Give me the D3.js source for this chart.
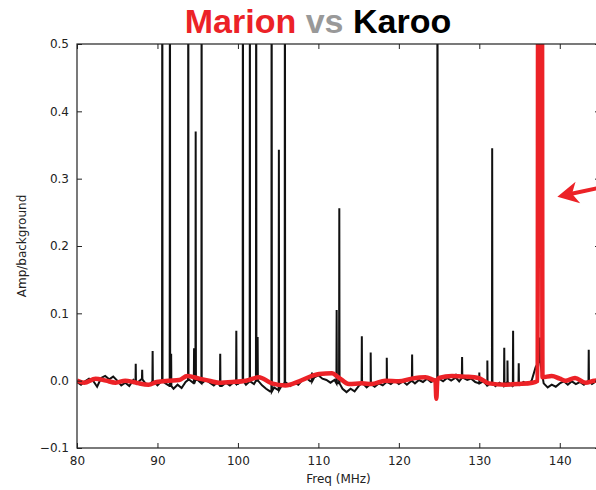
<!DOCTYPE html>
<html>
<head>
<meta charset="utf-8">
<script src="https://cdnjs.cloudflare.com/ajax/libs/d3/7.8.5/d3.min.js"></script>
<style>
  body { margin: 0; background: #fff; }
  #chart { width: 596px; height: 490px; overflow: hidden; }
</style>
</head>
<body>
<div id="chart"></div>
<script>
// Karoo baseline (black), one value every 0.5 MHz starting at 80 MHz
var karooStart = 80, karooStep = 0.5;
var karooBase = [
  -0.002,-0.006,-0.001,0.003,0.000,-0.009,0.004,0.007,0.002,0.006,
  0.000,-0.007,-0.003,-0.008,0.001,-0.003,0.002,-0.004,-0.006,-0.001,
  -0.007,-0.001,-0.004,-0.008,-0.012,-0.006,-0.011,-0.002,0.001,-0.004,
  0.001,-0.004,0.001,-0.003,-0.007,-0.002,-0.008,-0.003,-0.007,-0.002,
  -0.005,0.000,-0.006,-0.001,-0.005,0.000,-0.007,-0.012,-0.016,-0.010,
  -0.014,-0.006,-0.003,-0.008,-0.003,-0.006,0.001,0.004,-0.001,0.005,
  0.008,0.003,0.001,-0.003,0.001,-0.004,-0.012,-0.017,-0.012,-0.016,
  -0.008,-0.004,-0.010,-0.005,-0.009,-0.004,-0.007,-0.002,-0.005,0.000,
  -0.005,-0.001,-0.006,-0.001,-0.004,0.001,-0.002,0.003,-0.002,0.001,
  0.003,-0.001,0.004,0.000,0.004,-0.001,0.004,0.001,0.003,-0.002,
  -0.004,-0.001,-0.007,-0.003,-0.008,-0.003,-0.007,-0.002,-0.007,-0.004,
  -0.006,-0.002,-0.005,0.000,0.020,0.030,-0.004,-0.010,-0.006,-0.009,
  -0.004,-0.001,-0.006,-0.001,-0.005,-0.002,-0.006,-0.001,-0.005,-0.001,
  -0.003
];

// Karoo RFI spikes (black): frequency in MHz and peak amplitude
var spikeFreq = [87.3, 88.1, 89.4, 90.6, 91.55, 91.7, 93.83, 94.55, 94.75, 95.49,
                 97.8, 99.8, 100.62, 101.49, 102.27, 102.45, 104.19, 105.09, 105.84, 109.2,
                 112.27, 112.6, 115.4, 116.5, 118.5, 121.65, 124.8, 127.1, 127.86, 130.0,
                 131.0, 131.6, 133.1, 133.5, 134.2, 134.9, 137.5, 143.6];
var spikeAmp  = [0.025, 0.016, 0.044, 0.8, 0.8, 0.04, 0.8, 0.048, 0.37, 0.8,
                 0.04, 0.074, 0.8, 0.8, 0.8, 0.065, 0.8, 0.343, 0.8, 0.012,
                 0.105, 0.256, 0.066, 0.042, 0.034, 0.039, 0.8, 0.01, 0.035, 0.012,
                 0.03, 0.345, 0.049, 0.03, 0.074, 0.026, 0.064, 0.046];

// Marion (red)
var marionFreq = [80, 80.9, 82.3, 83.6, 84.8, 86.0, 87.0, 87.7, 88.9, 89.9,
                  91.4, 92.7, 93.7, 95.2, 96.4, 97.6, 99.3, 101.0, 102.6, 104.2,
                  105.9, 107.6, 109.2, 110.1, 111.7, 112.5, 113.8, 115.4, 116.6, 118.3,
                  120.0, 121.6, 123.3, 124.3, 124.55, 124.66, 124.78, 125.0, 126.6, 128.3,
                  129.9, 131.2, 133.3, 134.9, 136.6, 137.25, 137.32, 137.78, 137.85, 139.0,
                  140.0, 140.7, 141.9, 143.2, 144.3, 145];
var marionAmp  = [0.0, -0.003, 0.003, 0.0, -0.003, 0.0, -0.002, -0.004, -0.006, -0.002,
                  0.0, 0.001, 0.007, 0.003, 0.0, -0.003, -0.002, 0.0, 0.005, -0.004,
                  -0.007, -0.001, 0.007, 0.010, 0.011, 0.005, -0.005, -0.004, -0.005, 0.0,
                  -0.001, 0.003, 0.005, 0.001, 0.0, -0.027, 0.0, 0.004, 0.007, 0.006,
                  0.004, -0.004, -0.006, -0.005, -0.003, 0.0, 0.7, 0.7, 0.005, 0.007,
                  0.003, 0.0, 0.004, -0.003, 0.0, 0.001];

var xTicks = [80, 90, 100, 110, 120, 130, 140];
var yTicks = [-0.1, 0.0, 0.1, 0.2, 0.3, 0.4, 0.5];

var red = "#ec2227";

var draw = function() {
  var width = 596, height = 490;
  var mLeft = 77, mRight = 600, mTop = 44, mBottom = 448;

  var svg = d3.select("#chart").append("svg")
    .attr("width", width)
    .attr("height", height);

  var x = d3.scaleLinear().domain([80, 145]).range([mLeft, mRight]);
  var y = d3.scaleLinear().domain([-0.1, 0.5]).range([mBottom, mTop]);

  svg.append("clipPath").attr("id", "clip")
    .append("rect")
    .attr("x", mLeft).attr("y", mTop)
    .attr("width", mRight - mLeft).attr("height", mBottom - mTop);

  // build the black series: baseline plus narrow spikes
  var karoo = karooBase.map(function(v, i) { return { f: karooStart + i * karooStep, v: v }; });
  spikeFreq.forEach(function(f, i) {
    var base = karooBase[Math.round((f - karooStart) / karooStep)];
    karoo.push({ f: f - 0.03, v: base });
    karoo.push({ f: f, v: spikeAmp[i] });
    karoo.push({ f: f + 0.03, v: base });
  });
  karoo.sort(function(a, b) { return a.f - b.f; });

  var marion = marionFreq.map(function(f, i) { return { f: f, v: marionAmp[i] }; });

  var plot = svg.append("g").attr("clip-path", "url(#clip)");

  plot.append("path")
    .datum(karoo)
    .attr("d", d3.line().x(function(d) { return x(d.f); }).y(function(d) { return y(d.v); }))
    .style("fill", "none")
    .style("stroke", "#111")
    .style("stroke-width", 2);

  plot.append("path")
    .datum(marion)
    .attr("d", d3.line().curve(d3.curveMonotoneX)
      .x(function(d) { return x(d.f); }).y(function(d) { return y(d.v); }))
    .style("fill", "none")
    .style("stroke", red)
    .style("stroke-width", 4.5);

  // axes, matplotlib classic style: ticks inside on all four sides
  var axStyle = function(g) {
    g.select(".domain").remove();
    g.selectAll(".tick line").attr("stroke", "#222");
    g.selectAll("text")
      .style("font-family", "DejaVu Sans")
      .style("font-size", "12px")
      .attr("fill", "#222");
  };
  var fmtY = function(d) { return d3.format(".1f")(d).replace("-", "\u2212"); };

  svg.append("g").attr("transform", "translate(0," + mBottom + ")")
    .call(d3.axisBottom(x).tickValues(xTicks).tickSizeInner(-5).tickPadding(8).tickFormat(d3.format("d")))
    .call(axStyle);
  svg.append("g").attr("transform", "translate(0," + mTop + ")")
    .call(d3.axisTop(x).tickValues(xTicks).tickSizeInner(-5).tickFormat(""))
    .call(axStyle);
  svg.append("g").attr("transform", "translate(" + mLeft + ",0)")
    .call(d3.axisLeft(y).tickValues(yTicks).tickSizeInner(-5).tickPadding(8).tickFormat(fmtY))
    .call(axStyle);
  svg.append("g").attr("transform", "translate(" + mRight + ",0)")
    .call(d3.axisRight(y).tickValues(yTicks).tickSizeInner(-5).tickFormat(""))
    .call(axStyle);

  svg.append("rect")
    .attr("x", mLeft).attr("y", mTop)
    .attr("width", mRight - mLeft).attr("height", mBottom - mTop)
    .style("fill", "none").style("stroke", "#222").style("stroke-width", 1.2);

  // axis labels
  svg.append("text")
    .attr("x", (mLeft + mRight) / 2).attr("y", 483)
    .attr("text-anchor", "middle")
    .style("font-family", "DejaVu Sans").style("font-size", "12px").attr("fill", "#222")
    .text("Freq (MHz)");

  svg.append("text")
    .attr("transform", "translate(26," + (mTop + mBottom) / 2 + ") rotate(-90)")
    .attr("text-anchor", "middle")
    .style("font-family", "DejaVu Sans").style("font-size", "12px").attr("fill", "#222")
    .text("Amp/background");

  // title
  var title = svg.append("text")
    .attr("x", 318).attr("y", 33)
    .attr("text-anchor", "middle")
    .style("font-family", "Liberation Sans, Arial, sans-serif")
    .style("font-weight", "bold")
    .style("font-size", "34px");
  title.append("tspan").attr("fill", red).text("Marion");
  title.append("tspan").attr("fill", "#999").text(" vs ");
  title.append("tspan").attr("fill", "#000").text("Karoo");

  // red arrow pointing at the Marion peak
  var tip = [x(139.7), y(0.273)], tail = [x(145.5), y(0.288)];
  var ang = Math.atan2(tail[1] - tip[1], tail[0] - tip[0]);
  var len = Math.hypot(tail[0] - tip[0], tail[1] - tip[1]);
  var arrow = svg.append("g")
    .attr("transform", "translate(" + tip[0] + "," + tip[1] + ") rotate(" + ang * 180 / Math.PI + ")");
  arrow.append("line")
    .attr("x1", 12).attr("y1", 0).attr("x2", len).attr("y2", 0)
    .style("stroke", red).style("stroke-width", 4);
  arrow.append("path")
    .attr("d", "M0,0 L21,-11 L15,0 L21,11 Z")
    .style("fill", red);
};

draw();
</script>
</body>
</html>
